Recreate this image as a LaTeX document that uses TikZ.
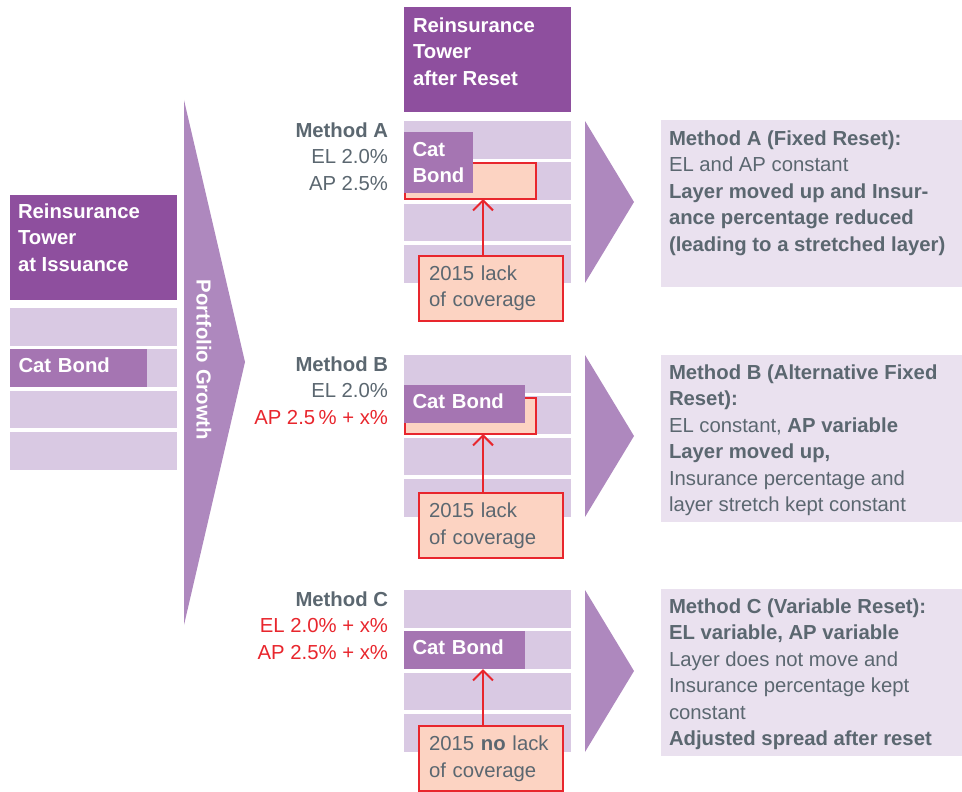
\documentclass[tikz,border=0pt]{standalone}
\usepackage{fontspec}
\setmainfont{Liberation Sans}
\usetikzlibrary{arrows.meta}
\definecolor{towerhead}{HTML}{8E4F9E}
\definecolor{catbond}{HTML}{A575B2}
\definecolor{layer}{HTML}{D9C9E3}
\definecolor{growth}{HTML}{AE88BE}
\definecolor{notebg}{HTML}{EAE1EF}
\definecolor{gapfill}{HTML}{FCD3C2}
\definecolor{gapline}{HTML}{E8262D}
\definecolor{textgray}{HTML}{5B6770}
\newcommand{\txtsize}{\fontsize{20.3}{26.5}\selectfont}

\begin{document}
\begin{tikzpicture}[x=1pt,y=-1pt,
  every node/.style={inner sep=0pt,outer sep=0pt,font=\txtsize},
  headtext/.style={anchor=north west,align=left,text=white,font=\txtsize\bfseries},
  methodtext/.style={anchor=north east,align=right,text=textgray},
  notetext/.style={anchor=north west,align=left,text=textgray},
  catbox/.style={anchor=north west,fill=catbond,text=white,font=\txtsize\bfseries,
    inner xsep=8.5pt,align=left,minimum height=38},
  oneline/.style={text height=13pt,text depth=4pt},
  gapbox/.style={anchor=north west,draw=gapline,fill=gapfill,line width=2pt,
    minimum width=131,minimum height=36},
  lackbox/.style={gapbox,minimum width=144,minimum height=65,text width=124,
    inner xsep=10pt,text=textgray},
  gaparrow/.style={draw=gapline,line width=2pt,-{Straight Barb[length=10pt,width=20pt]}}]
  \useasboundingbox (0,0) rectangle (962,792);

  % towers: layers
  \foreach \top/\x in {308/10,121/404,355/404,590/404}
    \foreach \dy in {0,41.3,82.6,124}
      \fill[layer] (\x,\top+\dy) rectangle ++(167,37.5);

  % tower headers
  \fill[towerhead] (10,195) rectangle (177,300);
  \fill[towerhead] (404,7) rectangle (571,112);
  \node[headtext] (headL) at (18,203.5) {Reinsurance\\Tower\\at Issuance};
  \node[headtext] (headR) at (413,17.5) {Reinsurance\\Tower\\after Reset};

  % growth arrow
  \fill[growth] (184,100) -- (245,362) -- (184,625) -- cycle;
  \node[rotate=-90,text=white,font=\txtsize\bfseries] (growth) at (204,360) {Portfolio Growth};

  % result arrows and notes
  \foreach \top in {121,355,590}
    \fill[growth] (585,\top) -- (634,\top+81) -- (585,\top+162) -- cycle;
  \foreach \top in {120,355,589}
    \fill[notebg] (661,\top) rectangle ++(301,167);

  % lack of coverage
  \node[gapbox] (gapA) at (405,163) {};
  \node[gapbox] (gapB) at (405,398) {};

  % cat bonds
  \node[catbox,oneline,text width=120] (catL) at (10,349) {Cat Bond};
  \node[catbox,text width=52,minimum height=61] (catA) at (404,132) {Cat\\Bond};
  \node[catbox,oneline,text width=104] (catB) at (404,385) {Cat Bond};
  \node[catbox,oneline,text width=104] (catC) at (404,631) {Cat Bond};

  \node[lackbox] (lackA) at (419,256) {2015 lack\\of coverage};
  \node[lackbox] (lackB) at (419,493) {2015 lack\\of coverage};
  \node[lackbox] (lackC) at (419,726) {2015 \textbf{no} lack\\of coverage};
  \draw[gaparrow] ([xshift=64pt]lackA.north west) -- ([xshift=64pt]lackA.north west |- gapA.south);
  \draw[gaparrow] ([xshift=64pt]lackB.north west) -- ([xshift=64pt]lackB.north west |- gapB.south);
  \draw[gaparrow] ([xshift=64pt]lackC.north west) -- ([xshift=64pt]lackC.north west |- catC.south);

  % method labels
  \node[methodtext] (methA) at (388,122.5) {\textbf{Method A}\\EL 2.0\%\\AP 2.5\%};
  \node[methodtext] (methB) at (388,356.5) {\textbf{Method B}\\EL 2.0\%\\\textcolor{gapline}{AP 2.5\,\% + x\%}};
  \node[methodtext] (methC) at (388,591.5) {\textbf{Method C}\\\textcolor{gapline}{EL 2.0\% + x\%}\\\textcolor{gapline}{AP 2.5\% + x\%}};

  % notes
  \node[notetext] (noteA) at (669,130.5) {\textbf{Method A (Fixed Reset):}\\EL and AP constant\\
    \textbf{Layer moved up and Insur-}\\\textbf{ance percentage reduced}\\\textbf{(leading to a stretched layer)}};
  \node[notetext] (noteB) at (669,364.5) {\textbf{Method B (Alternative Fixed}\\\textbf{Reset):}\\
    EL constant, \textbf{AP variable}\\\textbf{Layer moved up,}\\Insurance percentage and\\layer stretch kept constant};
  \node[notetext] (noteC) at (669,598.5) {\textbf{Method C (Variable Reset):}\\\textbf{EL variable, AP variable}\\
    Layer does not move and\\Insurance percentage kept\\constant\\\textbf{Adjusted spread after reset}};
\end{tikzpicture}
\end{document}
